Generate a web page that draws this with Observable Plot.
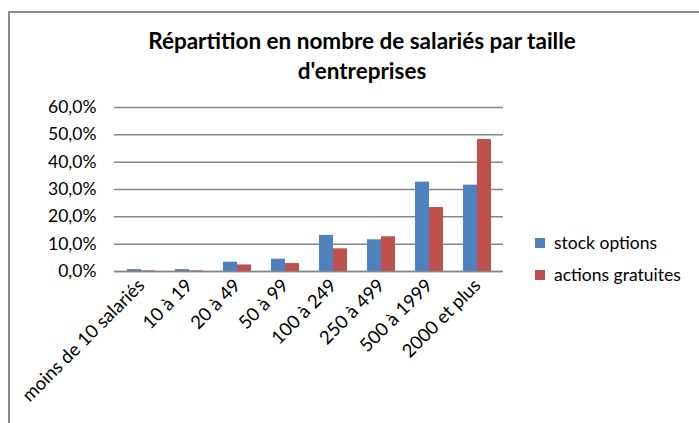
<!DOCTYPE html>
<html>
<head>
<meta charset="utf-8">
<script src="https://cdn.jsdelivr.net/npm/d3@7"></script>
<script src="https://cdn.jsdelivr.net/npm/@observablehq/plot@0.6"></script>
<style>
  html, body { margin: 0; padding: 0; background: #fff; }
  #wrap { position: relative; width: 699px; height: 423px; overflow: hidden; font-family: Lato, "Open Sans", sans-serif; }
  #border { position: absolute; left: 8px; top: 11px; width: 700px; height: 420px; border-left: 2px solid #8c8c8c; border-top: 2px solid #8c8c8c; box-sizing: border-box; }
  #title { position: absolute; left: 0; width: 724px; top: 26px; text-align: center; font-weight: bold; font-size: 22.5px; line-height: 30px; color: #000; }
  .leg { position: absolute; left: 535px; font-size: 17.5px; color: #000; display: flex; align-items: center; }
  .sw { width: 10px; height: 10px; margin-right: 9px; }
  svg { position: absolute; left: 0; top: 0; }
</style>
</head>
<body>
<div id="wrap">
  <div id="border"></div>
  <div id="title">Répartition en nombre de salariés par taille<br>d'entreprises</div>
</div>
<script>
const categories = ["moins de 10 salariés", "10 à 19", "20 à 49", "50 à 99", "100 à 249", "250 à 499", "500 à 1999", "2000 et plus"];
const stockOptions = [0.007, 0.007, 0.034, 0.045, 0.132, 0.116, 0.327, 0.316];
const actionsGratuites = [0.002, 0.002, 0.024, 0.029, 0.083, 0.127, 0.234, 0.483];
const seriesNames = ["stock options", "actions gratuites"];
const seriesColors = ["#4F81BD", "#C0504D"];
const yTicks = [0, 0.1, 0.2, 0.3, 0.4, 0.5, 0.6];

const data = [];
categories.forEach((c, i) => {
  data.push({cat: c, series: seriesNames[0], value: stockOptions[i]});
  data.push({cat: c, series: seriesNames[1], value: actionsGratuites[i]});
});

const fmt = d => (d * 100).toFixed(1).replace(".", ",") + "%";

const chart = Plot.plot({
  width: 699,
  height: 423,
  marginLeft: 114,
  marginRight: 196,
  marginTop: 107,
  marginBottom: 152,
  style: {fontFamily: "Lato, 'Open Sans', sans-serif", fontSize: "17px", color: "#000", background: "transparent", overflow: "visible"},
  x: {domain: categories, paddingInner: 0.42, paddingOuter: 0.21, label: null},
  y: {domain: [0, 0.6], ticks: yTicks, label: null},
  marks: [
    Plot.gridY(yTicks, {stroke: "#868686", strokeOpacity: 1, strokeWidth: 1.5}),
    Plot.axisY({ticks: yTicks, tickFormat: fmt, tickSize: 0, tickPadding: 18, fontSize: 17.5, label: null}),
    Plot.barY(data.filter(d => d.series === seriesNames[0]), {x: "cat", y: "value", fill: seriesColors[0], insetRight: 14}),
    Plot.barY(data.filter(d => d.series === seriesNames[1]), {x: "cat", y: "value", fill: seriesColors[1], insetLeft: 14}),
    Plot.ruleY([0], {stroke: "#868686", strokeWidth: 1.5}),
    Plot.ruleX([0], {frameAnchor: "left", stroke: "#868686", strokeWidth: 1.5}),
    Plot.axisX({tickRotate: -45, tickSize: 0, tickPadding: 11, fontSize: 18.5, label: null})
  ]
});
document.getElementById("wrap").appendChild(chart);

// Legend
const legTops = [232, 264];
seriesNames.forEach((n, i) => {
  const d = document.createElement("div");
  d.className = "leg";
  d.style.top = legTops[i] + "px";
  d.innerHTML = `<div class="sw" style="background:${seriesColors[i]}"></div><span>${n}</span>`;
  document.getElementById("wrap").appendChild(d);
});
</script>
</body>
</html>
